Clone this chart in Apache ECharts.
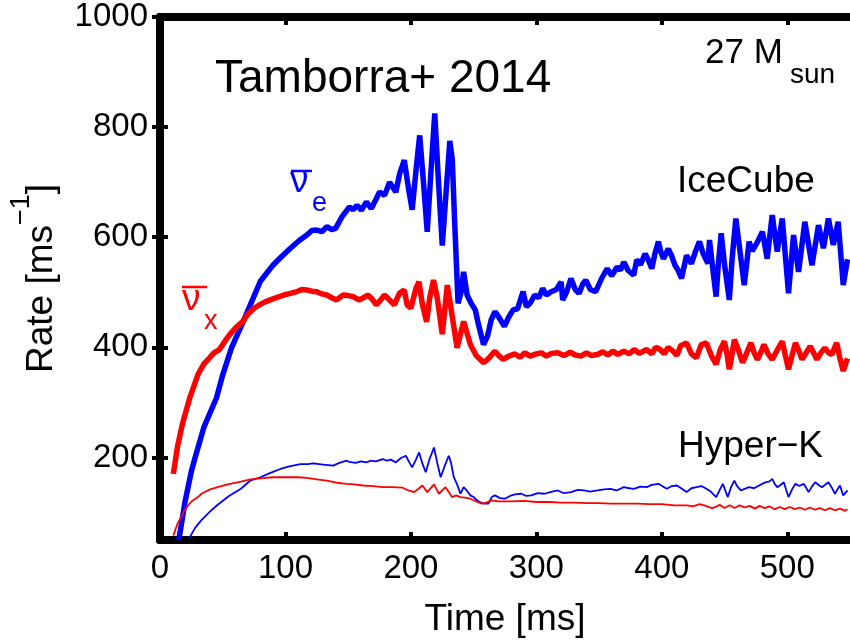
<!DOCTYPE html>
<html>
<head>
<meta charset="utf-8">
<script src="https://cdn.jsdelivr.net/npm/echarts@6/dist/echarts.min.js"></script>
<style>
html,body{margin:0;padding:0;background:#fff;}
#c{width:850px;height:643px;}
</style>
</head>
<body>
<div id="c"></div>
<script>
// ---- tick labels ----
const xTicks = [0, 100, 200, 300, 400, 500];
const yTicks = [200, 400, 600, 800, 1000];

// ---- IceCube, anti-nu_e (thick blue) ----
const iceTimeE = [15,20,25,28,35,45,50,57,65,72,80,90,97,104,111,117,121,125,129,133,137,140,145,151,154,157,160.5,164.5,168.4,172,175,179,183,188,191,194.7,198,201,204,207,210,213,216,219,222,225,228,231,233,235,237.6,240,242,244.8,248,251.3,254,257.9,261,264,267,270,274.5,278,281.5,285,289.4,292,295,298.7,302,305,308,311.8,316,319.7,321,324,327.6,331,334,337,339.4,343,347.3,352,356.5,360,364.4,367,369.7,373,377.6,380,383,386.7,389,392,394.5,397.3,399,401.3,405.2,408,410.5,413,415.7,419.7,423.6,427,430,433,436.8,438,440.5,443.3,445,447.3,450,453.8,456,459,462,465.7,469.6,472,474.9,477,480.2,484,488,492,496,501,505,509,514,519.7,524.9,528.8,532.8,536.7,540.6,544.6,548];
const iceRateE = [50,120,175,200,255,308,350,399,440,477,520,549,565,580,594,604,612,613,610,619,614,616,637,655,650,658,649,664,652,668,682,676,700,682,715,740,690,650,720,785,700,610,720,825,700,585,680,775,740,620,480,500,537,495,480,468,440,405,420,450,465,455,438,455,468,470,501,474,480,495,490,507,495,501,505,519,486,500,525,505,498,515,522,505,501,525,543,530,546,540,555,540,531,559,550,570,560,543,570,592,575,561,579,565,549,540,525,567,552,575,592,570,552,595,545,492,550,607,550,486,560,634,580,513,592,575,586,595,610,561,640,574,634,498,604,537,628,549,622,580,634,586,628,513,560];

// ---- IceCube, anti-nu_x (thick red) ----
const iceTimeX = [10.6,14,18,23.7,30.3,35,39.5,43,47.4,52,56.6,61,65.8,70,75,80,84.2,90,98.7,104,109,113,117,121,125,129,133,137,140.8,143,146,150,154,157,159,162,165.7,169,172.4,176,179,183,186.8,190.8,194.7,197,200,204,206.5,209,212.5,215,218,221,225,229,232,236.8,242,247.4,252,257.9,262,267,270,273.6,278,283,287,290.8,295,300,304,308,312,317,322,327,331,335.5,340,344,348.6,353,357,361,365,369.7,374,378,382,388,392,395,398.6,402,405,409,412,415,419.7,423.6,427.6,431.5,435.5,439.5,443.3,446.5,449.9,451.8,453.8,455.8,457.8,461,464.4,467.7,471,473.6,476.2,478.8,481.4,484.7,488,492,496,498.5,501,503.8,506.5,509,511.8,515,518.3,521,523.6,526.8,530,533,535.5,537.5,539.4,542,544.6,548];
const iceRateX = [170,220,262,308,351,370,381,390,396,412,426,437,447,460,471,478,483,488,495,498,501,505,504,502,501,497,495,490,486,490,495,494,492,488,486,490,495,488,477,486,495,486,477,498,504,477,471,507,519,480,446,490,522,490,424,513,470,399,447,405,385,372,380,393,385,378,384,388,382,390,384,388,390,384,389,390,385,391,386,384,390,385,387,392,386,393,387,393,388,396,389,396,388,400,396,388,400,393,385,403,408,388,381,405,408,385,369,395,411,390,360,385,414,395,372,390,408,390,378,390,405,388,378,395,411,385,360,385,408,395,378,390,402,390,378,390,399,390,387,398,408,380,357,380];

// ---- Hyper-K, anti-nu_e (thin blue) ----
const hkTimeE = [23,28,33,40,46,55,64.5,72,80,88,96,104,112,118,122,130,138,143,148.7,151,156,160,164.5,168,172,177.6,181,184,188,192,196,198.5,201,204,206.5,209,211.8,215,218.4,221,223.7,227,230.2,232,234.2,237,239.5,242,244.5,247.4,250,252.6,255,257.9,261.8,264.4,267,271,275,279,283,288,292,296,301,306.5,311,317,322,327.6,333,338,343,348.6,354,359,364,369.7,374,377.6,383,388,392,397.3,401,404,408,412,416,419.7,423.6,427.6,431.5,435.5,439,443.3,446,448.6,450.6,452.6,455,457.8,460,463,466,469.6,473.5,477.5,480,482.8,485.5,488,490,492,494.6,497.2,499,501,503.8,506.5,509.7,513,515,517,519.6,522.3,525,527.6,530,532.8,535.5,538,540,542,544.6,548];
const hkRateE = [52,72,86,102,114,130,143,158,164,172,179,184,188,188,189,187,185,190,194,192,190,193,191,194,193,197,194,196,191,199,203,192,182,196,209,190,173,198,218,190,164,185,203,190,164,150,134,146,140,131,128,122,119,116,116,128,131,126,125,130,133,134,130,131,135,134,137,140,135,137,141,140,138,140,142,143,140,146,144,143,147,146,150,152,147,143,148,149,143,137,144,146,148,143,138,128,140,152,140,128,145,158,148,140,143,146,144,149,152,155,156,161,152,146,150,155,142,128,142,152,148,152,145,137,147,155,150,146,150,155,145,134,142,149,131,140];

// ---- Hyper-K, anti-nu_x (thin red) ----
const hkTimeX = [10.6,14,17,19.7,25,30.3,33,40,46,54,64.5,72,80,90,101.3,110,117,125,133,140.8,148.7,155,161.8,170,177.6,185,193.4,198,202.6,206,209.2,213,218.4,222.3,227.6,232.8,236,239.5,243,247.4,252,256.5,260,264.4,270,280,290,300,310,320,330,340,350,360,370,380,390,400,410,420,425,430,435,440,443,446,450,454,458,462,466,470,474,478,482,486,490,494,498,502,506,510,514,518,522,526,530,534,538,542,546,548];
const hkRateX = [58,80,92,105,120,128,134,142,146,151,156,160,162,164,164,164,163,160,158,154,152,151,149,148,146,146,145,140,137,143,149,137,151,134,146,128,131,128,127,125,120,116,118,122,120,120,121,119,119,118,118,117,117,116,116,116,115,115,113,113,111,115,112,108,110,114,108,113,108,113,109,112,107,112,108,111,106,110,106,110,106,109,105,109,105,108,104,108,104,107,103,106];

const FONT = '"Liberation Sans", Arial, Helvetica, sans-serif';
const zip = (t, v) => t.map((x, i) => [x, v[i]]);

const chart = echarts.init(document.getElementById('c'), null, {renderer: 'canvas'});

const axisLineStyle = {color: '#000', width: 8};
const tickStyle = {color: '#000', width: 4};
const plain = v => String(v);

function line(data, color, width) {
  return {
    type: 'line', data: data, showSymbol: false, symbol: 'none',
    lineStyle: {color: color, width: width}, itemStyle: {color: color},
    animation: false, silent: true
  };
}

const option = {
  backgroundColor: '#fff',
  animation: false,
  grid: {left: 158, top: 17, width: 697, height: 525, containLabel: false},
  xAxis: [
    {
      type: 'value', min: 0, max: 550, position: 'bottom',
      axisLine: {show: true, lineStyle: axisLineStyle},
      axisTick: {show: true, inside: true, length: 8, lineStyle: tickStyle, customValues: xTicks},
      axisLabel: {show: true, customValues: xTicks, formatter: plain, color: '#000', fontSize: 33, fontFamily: FONT, margin: 12},
      splitLine: {show: false},
      name: 'Time [ms]', nameLocation: 'middle', nameGap: 61,
      nameTextStyle: {color: '#000', fontSize: 37, fontFamily: FONT}
    },
    {
      type: 'value', min: 0, max: 550, position: 'top',
      axisLine: {show: true, lineStyle: axisLineStyle},
      axisTick: {show: true, inside: true, length: 8, lineStyle: tickStyle, customValues: xTicks},
      axisLabel: {show: false},
      splitLine: {show: false}
    }
  ],
  yAxis: [
    {
      type: 'value', min: 50, max: 1000, position: 'left',
      axisLine: {show: true, lineStyle: axisLineStyle},
      axisTick: {show: true, inside: true, length: 8, lineStyle: tickStyle, customValues: yTicks},
      axisLabel: {show: true, customValues: yTicks, formatter: plain, color: '#000', fontSize: 33, fontFamily: FONT, margin: 12},
      splitLine: {show: false},
      name: '{b|Rate [ms}{sup|\u22121}{b|]}', nameLocation: 'middle', nameGap: 100,
      nameTextStyle: {
        color: '#000', fontSize: 37, fontFamily: FONT,
        rich: {
          b: {color: '#000', fontSize: 37, fontFamily: FONT, lineHeight: 52, verticalAlign: 'bottom'},
          sup: {color: '#000', fontSize: 27, fontFamily: FONT, lineHeight: 30, verticalAlign: 'top'}
        }
      }
    },
    {
      type: 'value', min: 50, max: 1000, position: 'right',
      axisLine: {show: true, lineStyle: axisLineStyle},
      axisTick: {show: true, inside: true, length: 8, lineStyle: tickStyle, customValues: yTicks},
      axisLabel: {show: false},
      splitLine: {show: false}
    }
  ],
  series: [
    line(zip(iceTimeE, iceRateE), '#0000ff', 5.5),
    line(zip(iceTimeX, iceRateX), '#ff0000', 5.5),
    line(zip(hkTimeE, hkRateE), '#0000ff', 1.8),
    line(zip(hkTimeX, hkRateX), '#ff0000', 1.8)
  ],
  graphic: [
    {type: 'text', x: 215, y: 79, style: {text: 'Tamborra+ 2014', fontSize: 46, fontFamily: FONT, fill: '#000', verticalAlign: 'middle', align: 'left'}},
    {type: 'text', x: 705, y: 53, style: {text: '27 M', fontSize: 35, fontFamily: FONT, fill: '#000', verticalAlign: 'middle', align: 'left'}},
    {type: 'text', x: 790, y: 75, style: {text: 'sun', fontSize: 28, fontFamily: FONT, fill: '#000', verticalAlign: 'middle', align: 'left'}},
    {type: 'text', x: 677, y: 182, style: {text: 'IceCube', fontSize: 37, fontFamily: FONT, fill: '#000', verticalAlign: 'middle', align: 'left'}},
    {type: 'text', x: 678, y: 447, style: {text: 'Hyper\u2212K', fontSize: 37, fontFamily: FONT, fill: '#000', verticalAlign: 'middle', align: 'left'}},
    // anti-nu_e label (blue)
    {type: 'text', x: 290, y: 182, style: {text: '\u03bd', fontSize: 37, fontFamily: FONT, fill: '#0000ff', verticalAlign: 'middle', align: 'left'}},
    {type: 'line', shape: {x1: 291, y1: 171, x2: 312, y2: 171}, style: {stroke: '#0000ff', lineWidth: 2.5}},
    {type: 'text', x: 312, y: 204, style: {text: 'e', fontSize: 27, fontFamily: FONT, fill: '#0000ff', verticalAlign: 'middle', align: 'left'}},
    // anti-nu_x label (red)
    {type: 'text', x: 182, y: 300, style: {text: '\u03bd', fontSize: 37, fontFamily: FONT, fill: '#ff0000', verticalAlign: 'middle', align: 'left'}},
    {type: 'line', shape: {x1: 182, y1: 287, x2: 207, y2: 287}, style: {stroke: '#ff0000', lineWidth: 2.5}},
    {type: 'text', x: 204, y: 322, style: {text: 'x', fontSize: 27, fontFamily: FONT, fill: '#ff0000', verticalAlign: 'middle', align: 'left'}}
  ]
};
chart.setOption(option);
</script>
</body>
</html>
